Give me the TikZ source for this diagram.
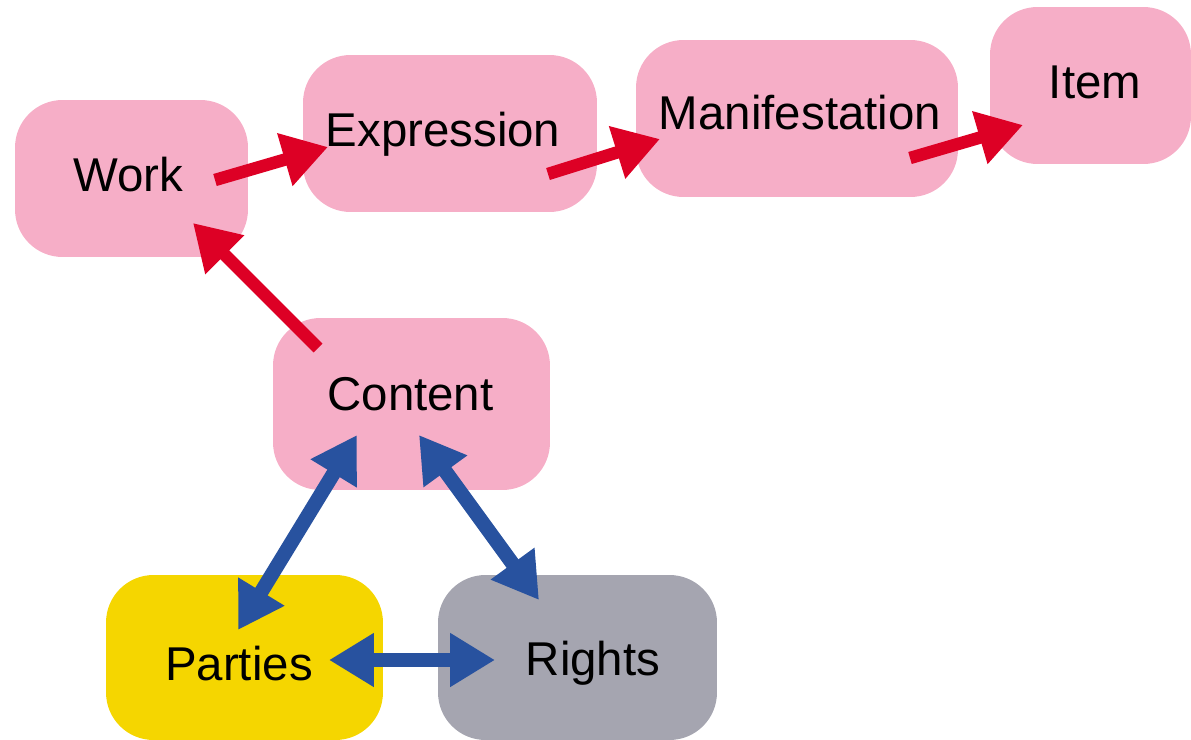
\documentclass[tikz,border=0pt]{standalone}
\usepackage{fontspec}
\setmainfont{Liberation Sans}
\usetikzlibrary{arrows.meta}
\definecolor{frbrpink}{HTML}{F6AEC7}
\definecolor{partyyellow}{HTML}{F5D600}
\definecolor{rightsgray}{HTML}{A5A5B0}
\definecolor{arrred}{HTML}{DD0025}
\definecolor{arrblue}{HTML}{28529F}
\begin{document}
\begin{tikzpicture}[x=0.02cm,y=-0.02cm,
    box/.style={rounded corners=0.95cm, inner sep=0pt, minimum height=3.14cm},
    lbl/.style={anchor=base, inner sep=0pt, font=\fontsize{27}{32}\selectfont},
    redarr/.style={line width=0.25cm, draw=arrred, -{Triangle[length=0.9cm,width=1.04cm]}},
    bluearr/.style={line width=0.29cm, draw=arrblue,
      {Triangle[length=0.9cm,width=1.02cm]}-{Triangle[length=0.9cm,width=1.02cm]}}]
  \useasboundingbox (0,0) rectangle (1191,740);
  % boxes
  \node[box, fill=frbrpink, minimum width=4.66cm] (work) at (131.5,178.5) {};
  \node[box, fill=frbrpink, minimum width=5.88cm] (expr) at (450,133.5) {};
  \node[box, fill=frbrpink, minimum width=6.44cm] (manif) at (797,118.5) {};
  \node[box, fill=frbrpink, minimum width=4.02cm] (item) at (1090.5,85.5) {};
  \node[box, fill=frbrpink, minimum width=5.54cm, minimum height=3.44cm] (content) at (411.5,404) {};
  \node[box, fill=partyyellow, minimum width=5.54cm, minimum height=3.3cm] (parties) at (244.5,657.5) {};
  \node[box, fill=rightsgray, minimum width=5.58cm, minimum height=3.3cm] (rights) at (577.5,657.5) {};
  % texts
  \node[lbl] (worktxt) at (128,192) {Work};
  \node[lbl] (exprtxt) at (443,147) {Expression};
  \node[lbl] (maniftxt) at (800,130) {Manifestation};
  \node[lbl] (itemtxt) at (1095,99) {Item};
  \node[lbl] (contenttxt) at (410.5,410) {Content};
  \node[lbl] (partiestxt) at (239,680) {Parties};
  \node[lbl] (rightstxt) at (593,675) {Rights};
  % arrow ends
  \coordinate (w1) at (215,180);   \coordinate (e1) at (328,147);
  \coordinate (e2) at (548,174);   \coordinate (m1) at (660,139);
  \coordinate (m2) at (910,158);   \coordinate (i1) at (1023,125);
  \coordinate (c1) at (318,348);   \coordinate (w2) at (193,223);
  \coordinate (c2) at (357,435);   \coordinate (p1) at (238,630);
  \coordinate (c3) at (419,435);   \coordinate (r1) at (539,600);
  \coordinate (p2) at (329,660);   \coordinate (r2) at (495,660);
  \begin{scope}[redarr]
    \draw (w1) to (e1);
    \draw (e2) to (m1);
    \draw (m2) to (i1);
    \draw (c1) to (w2);
  \end{scope}
  \begin{scope}[bluearr]
    \draw (c2) to (p1);
    \draw (c3) to (r1);
    \draw (p2) to (r2);
  \end{scope}
\end{tikzpicture}
\end{document}
